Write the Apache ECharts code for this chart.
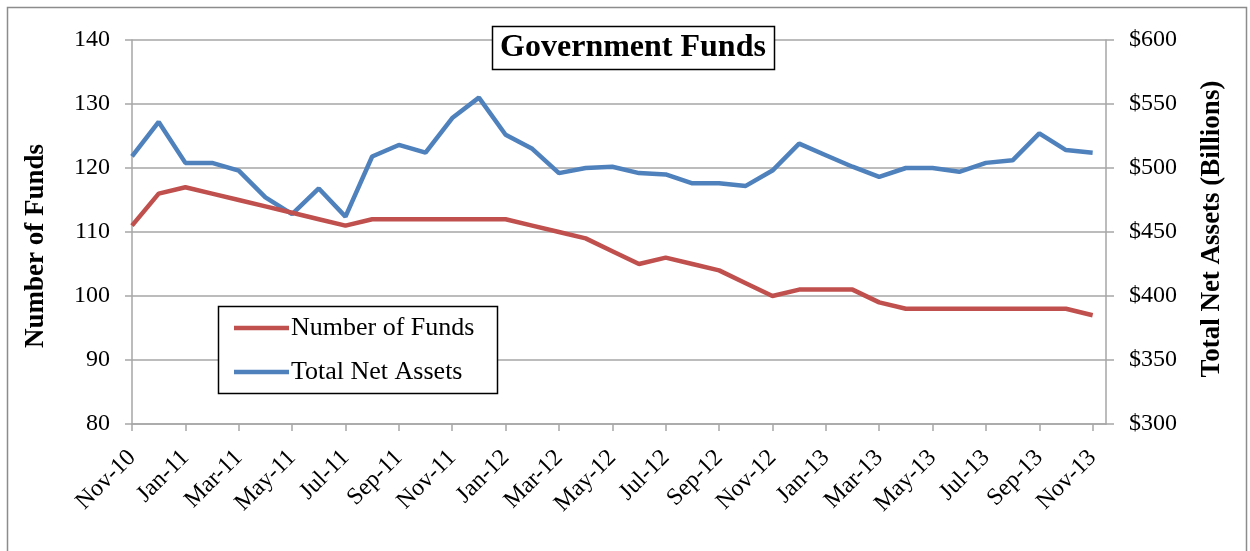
<!DOCTYPE html>
<html>
<head>
<meta charset="utf-8">
<script src="https://cdn.jsdelivr.net/npm/echarts@6/dist/echarts.min.js"></script>
<style>
  html, body { margin: 0; padding: 0; background: #fff; }
  #chart { width: 1250px; height: 551px; }
</style>
</head>
<body>
<div id="chart"></div>
<script>
const months = [
  'Nov-10', 'Dec-10',
  'Jan-11', 'Feb-11', 'Mar-11', 'Apr-11', 'May-11', 'Jun-11', 'Jul-11', 'Aug-11', 'Sep-11', 'Oct-11', 'Nov-11', 'Dec-11',
  'Jan-12', 'Feb-12', 'Mar-12', 'Apr-12', 'May-12', 'Jun-12', 'Jul-12', 'Aug-12', 'Sep-12', 'Oct-12', 'Nov-12', 'Dec-12',
  'Jan-13', 'Feb-13', 'Mar-13', 'Apr-13', 'May-13', 'Jun-13', 'Jul-13', 'Aug-13', 'Sep-13', 'Oct-13', 'Nov-13'
];
const numberOfFunds = [
  111, 116,
  117, 116, 115, 114, 113, 112, 111, 112, 112, 112, 112, 112,
  112, 111, 110, 109, 107, 105, 106, 105, 104, 102, 100, 101,
  101, 101, 99, 98, 98, 98, 98, 98, 98, 98, 97
];
const totalNetAssets = [
  509, 536,
  504, 504, 498, 477, 464, 484, 462, 509, 518, 512, 539, 555,
  526, 515, 496, 500, 501, 496, 495, 488, 488, 486, 498, 519,
  510, 501, 493, 500, 500, 497, 504, 506, 527, 514, 512
];
const leftTicks = [80, 140, 10];
const rightTicks = [300, 600, 50];

const serif = 'Liberation Serif';
const gridColor = '#a6a6a6';

// x runs on month index; the excel date axis runs half a month past the last point
const labelIdx = months.map((m, i) => i).filter(i => i % 2 === 0);
const fundsData = numberOfFunds.map((v, i) => [i, v]);
const assetsData = totalNetAssets.map((v, i) => [i, v]);

let myChart = echarts.init(document.getElementById('chart'));

let option = {
  animation: false,
  backgroundColor: '#fff',
  textStyle: { fontFamily: serif, color: '#000' },
  grid: { left: 132, right: 144, top: 40, bottom: 127 },
  graphic: [
    {
      type: 'rect',
      shape: { x: 7.5, y: 7.5, width: 1239, height: 560 },
      style: { fill: 'none', stroke: '#8c8c8c', lineWidth: 1.5 },
      silent: true
    },
    {
      type: 'rect',
      z: 100,
      shape: { x: 492.5, y: 26.5, width: 282, height: 43 },
      style: { fill: '#fff', stroke: '#000', lineWidth: 1.5 }
    },
    {
      type: 'text',
      z: 101,
      x: 633, y: 48,
      style: {
        text: 'Government Funds',
        font: 'bold 32px "Liberation Serif"',
        fill: '#000',
        align: 'center',
        verticalAlign: 'middle'
      }
    },
    {
      type: 'rect',
      z: 100,
      shape: { x: 218.5, y: 306.5, width: 279, height: 87 },
      style: { fill: '#fff', stroke: '#000', lineWidth: 1.5 }
    },
    {
      type: 'text',
      z: 101,
      x: 36, y: 246,
      rotation: Math.PI / 2,
      style: {
        text: 'Number of Funds',
        font: 'bold 27px "Liberation Serif"',
        fill: '#000',
        align: 'center',
        verticalAlign: 'middle'
      }
    },
    {
      type: 'text',
      z: 101,
      x: 1212, y: 229,
      rotation: Math.PI / 2,
      style: {
        text: 'Total Net Assets (Billions)',
        font: 'bold 27px "Liberation Serif"',
        fill: '#000',
        align: 'center',
        verticalAlign: 'middle'
      }
    }
  ],
  legend: {
    left: 234,
    top: 315,
    padding: 0,
    orient: 'vertical',
    itemGap: 18,
    itemWidth: 55,
    itemHeight: 4.5,
    icon: 'rect',
    z: 102,
    textStyle: { fontFamily: serif, fontSize: 26, color: '#000', padding: [0, 0, 0, -3] },
    data: ['Number of Funds', 'Total Net Assets']
  },
  xAxis: {
    type: 'value',
    min: 0,
    max: months.length - 0.5,
    axisLine: { show: true, onZero: false, lineStyle: { color: gridColor, width: 1.5 } },
    axisTick: { show: true, length: 7, customValues: labelIdx, lineStyle: { color: gridColor, width: 1.5 } },
    axisLabel: {
      customValues: labelIdx,
      formatter: v => months[v] || '',
      rotate: 45,
      fontFamily: serif,
      fontSize: 24,
      color: '#000',
      margin: 30
    },
    splitLine: { show: false }
  },
  yAxis: [
    {
      type: 'value',
      min: leftTicks[0], max: leftTicks[1], interval: leftTicks[2],
      axisLine: { show: true, lineStyle: { color: gridColor, width: 1.5 } },
      axisTick: { show: true, length: 7, lineStyle: { color: gridColor, width: 1.5 } },
      axisLabel: { fontFamily: serif, fontSize: 24, color: '#000', margin: 22 },
      splitLine: { show: true, lineStyle: { color: gridColor, width: 1.5 } }
    },
    {
      type: 'value',
      min: rightTicks[0], max: rightTicks[1], interval: rightTicks[2],
      axisLine: { show: true, lineStyle: { color: gridColor, width: 1.5 } },
      axisTick: { show: true, length: 8, lineStyle: { color: gridColor, width: 1.5 } },
      axisLabel: {
        fontFamily: serif, fontSize: 24, color: '#000', margin: 23,
        formatter: v => '$' + v
      },
      splitLine: { show: false }
    }
  ],
  series: [
    {
      name: 'Number of Funds',
      type: 'line',
      yAxisIndex: 0,
      data: fundsData,
      symbol: 'none',
      color: '#c0504d',
      lineStyle: { width: 4.5, color: '#c0504d' },
      z: 3
    },
    {
      name: 'Total Net Assets',
      type: 'line',
      yAxisIndex: 1,
      data: assetsData,
      symbol: 'none',
      color: '#4f81bd',
      lineStyle: { width: 4.5, color: '#4f81bd' },
      z: 2
    }
  ]
};

myChart.setOption(option);
</script>
</body>
</html>
